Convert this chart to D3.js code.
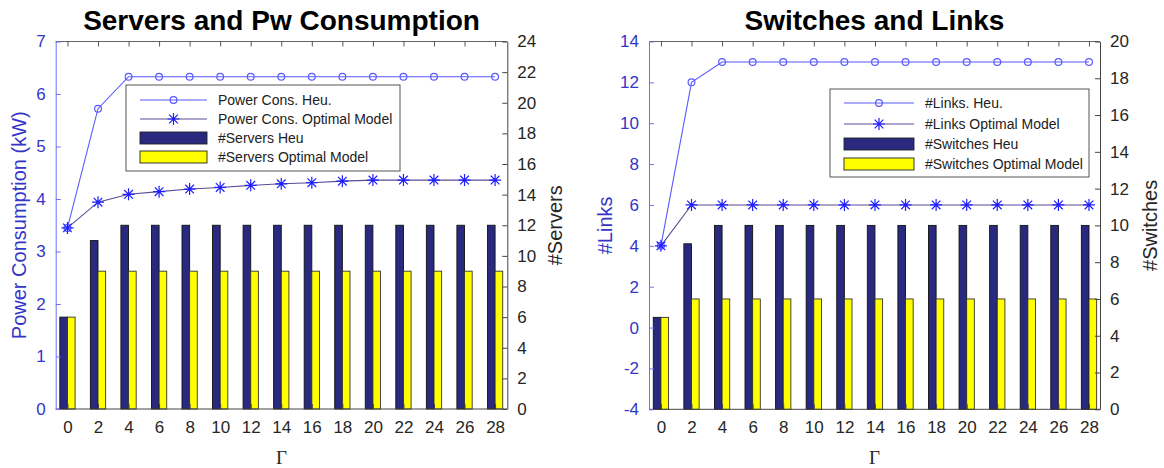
<!DOCTYPE html>
<html>
<head>
<meta charset="utf-8">
<script src="https://cdn.jsdelivr.net/npm/d3@7"></script>
<style>
  body { margin: 0; background: #fff; }
  svg { font-family: "Liberation Sans", Arial, sans-serif; }
</style>
</head>
<body>
<svg id="chart" width="1164" height="468"></svg>
<script>
// Γ values on the x axis
const gammas = [0, 2, 4, 6, 8, 10, 12, 14, 16, 18, 20, 22, 24, 26, 28]

// left panel: servers and power consumption
const powerHeu = [3.45, 5.72, 6.33, 6.33, 6.33, 6.33, 6.33, 6.33, 6.33, 6.33, 6.33, 6.33, 6.33, 6.33, 6.33]
const powerOpt = [3.45, 3.94, 4.09, 4.14, 4.19, 4.22, 4.26, 4.29, 4.31, 4.34, 4.36, 4.36, 4.36, 4.36, 4.36]
const serversHeu = [6, 11, 12, 12, 12, 12, 12, 12, 12, 12, 12, 12, 12, 12, 12]
const serversOpt = [6, 9, 9, 9, 9, 9, 9, 9, 9, 9, 9, 9, 9, 9, 9]
const powerTicks = [0, 1, 2, 3, 4, 5, 6, 7]
const serversTicks = [0, 2, 4, 6, 8, 10, 12, 14, 16, 18, 20, 22, 24]

// right panel: switches and links
const linksHeu = [4, 12, 13, 13, 13, 13, 13, 13, 13, 13, 13, 13, 13, 13, 13]
const linksOpt = [4, 6, 6, 6, 6, 6, 6, 6, 6, 6, 6, 6, 6, 6, 6]
const switchesHeu = [5, 9, 10, 10, 10, 10, 10, 10, 10, 10, 10, 10, 10, 10, 10]
const switchesOpt = [5, 6, 6, 6, 6, 6, 6, 6, 6, 6, 6, 6, 6, 6, 6]
const linksTicks = [-4, -2, 0, 2, 4, 6, 8, 10, 12, 14]
const switchesTicks = [0, 2, 4, 6, 8, 10, 12, 14, 16, 18, 20]

const BLUE_TXT = "#3535c8"
const BLUE_AX = "#7070ff"
const GRAY = "#262626"
const HEU_LINE = "#5a5aff"
const OPT_LINE = "#5a4b96"
const STAR = "#1f1fff"
const NAVY = "#29297f"
const YELLOW = "#ffff00"
const FONT = "Liberation Sans, Arial, sans-serif"

const svg = d3.select("#chart")
const plain = (d) => String(d)

// MATLAB style '*' marker
const starPath = (r) => {
  const d = r * 0.72
  return `M${-r},0L${r},0M0,${-r}L0,${r}M${-d},${-d}L${d},${d}M${-d},${d}L${d},${-d}`
}

function drawPanel(cfg) {
  const g = svg.append("g")
  const x = d3.scaleLinear().domain(cfg.xDomain).range([cfg.left, cfg.right])
  const yL = d3.scaleLinear().domain(d3.extent(cfg.leftTicks)).range([cfg.bottom, cfg.top])
  const yR = d3.scaleLinear().domain(d3.extent(cfg.rightTicks)).range([cfg.bottom, cfg.top])
  const bw = x(0.5) - x(0)

  // bars
  const bars = g.append("g")
  bars.selectAll("rect.heu").data(gammas).join("rect")
    .attr("x", (d) => x(d) - bw)
    .attr("y", (d, i) => yR(cfg.barHeu[i]))
    .attr("width", bw)
    .attr("height", (d, i) => yR(0) - yR(cfg.barHeu[i]))
    .attr("fill", NAVY).attr("stroke", "#111").attr("stroke-width", 0.9)
  bars.selectAll("rect.opt").data(gammas).join("rect")
    .attr("x", (d) => x(d))
    .attr("y", (d, i) => yR(cfg.barOpt[i]))
    .attr("width", bw)
    .attr("height", (d, i) => yR(0) - yR(cfg.barOpt[i]))
    .attr("fill", YELLOW).attr("stroke", "#333").attr("stroke-width", 0.9)

  // frame: top and bottom
  g.append("line").attr("x1", cfg.left).attr("x2", cfg.right).attr("y1", cfg.top).attr("y2", cfg.top)
    .attr("stroke", "#666")
  g.append("line").attr("x1", cfg.left).attr("x2", cfg.right).attr("y1", cfg.bottom).attr("y2", cfg.bottom)
    .attr("stroke", "#444")

  // x axis
  const xAxis = d3.axisBottom(x).tickValues(gammas).tickFormat(plain).tickSize(-5).tickPadding(12).tickSizeOuter(0)
  const gx = g.append("g").attr("transform", `translate(0,${cfg.bottom})`).call(xAxis)
  gx.select(".domain").remove()
  gx.selectAll("line").attr("stroke", "#444")
  gx.selectAll("text").attr("font-size", 17).attr("fill", GRAY).attr("font-family", FONT)
  const xTop = d3.axisTop(x).tickValues(gammas).tickSize(-5).tickFormat("")
  const gt = g.append("g").attr("transform", `translate(0,${cfg.top})`).call(xTop)
  gt.select(".domain").remove()
  gt.selectAll("line").attr("stroke", "#555")

  // left axis
  const gl = g.append("g").attr("transform", `translate(${cfg.left},0)`)
    .call(d3.axisLeft(yL).tickValues(cfg.leftTicks).tickFormat(plain).tickSize(-5).tickPadding(10).tickSizeOuter(0))
  gl.select(".domain").attr("stroke", BLUE_AX)
  gl.selectAll("line").attr("stroke", BLUE_AX)
  gl.selectAll("text").attr("font-size", 17).attr("fill", BLUE_TXT).attr("font-family", FONT)

  // right axis
  const gr = g.append("g").attr("transform", `translate(${cfg.right},0)`)
    .call(d3.axisRight(yR).tickValues(cfg.rightTicks).tickFormat(plain).tickSize(-5).tickPadding(10).tickSizeOuter(0))
  gr.select(".domain").attr("stroke", "#444")
  gr.selectAll("line").attr("stroke", "#444")
  gr.selectAll("text").attr("font-size", 17).attr("fill", GRAY).attr("font-family", FONT)

  // lines
  const line = (vals) => d3.line().x((d, i) => x(gammas[i])).y((d) => yL(d))(vals)
  g.append("path").attr("d", line(cfg.lineHeu)).attr("fill", "none").attr("stroke", HEU_LINE).attr("stroke-width", 1.1)
  g.append("path").attr("d", line(cfg.lineOpt)).attr("fill", "none").attr("stroke", OPT_LINE).attr("stroke-width", 1.1)
  g.selectAll("circle.m").data(cfg.lineHeu).join("circle")
    .attr("cx", (d, i) => x(gammas[i])).attr("cy", (d) => yL(d)).attr("r", 3.4)
    .attr("fill", "none").attr("stroke", HEU_LINE).attr("stroke-width", 1.2)
  g.selectAll("path.star").data(cfg.lineOpt).join("path")
    .attr("transform", (d, i) => `translate(${x(gammas[i])},${yL(d)})`)
    .attr("d", starPath(6)).attr("stroke", STAR).attr("stroke-width", 1.2)

  // titles and labels
  const cx = (cfg.left + cfg.right) / 2
  g.append("text").attr("x", cx).attr("y", 30).attr("text-anchor", "middle")
    .attr("font-size", 28).attr("font-weight", "bold").attr("fill", "#000").text(cfg.title)
  g.append("text").attr("x", cx).attr("y", 464).attr("text-anchor", "middle")
    .attr("font-size", 19).attr("font-family", "Liberation Serif, serif").attr("fill", GRAY).text("Γ")
  const cy = (cfg.top + cfg.bottom) / 2
  g.append("text").attr("transform", `translate(${cfg.leftLabelX},${cy}) rotate(-90)`)
    .attr("text-anchor", "middle").attr("font-size", 20).attr("fill", BLUE_TXT).text(cfg.leftLabel)
  g.append("text").attr("transform", `translate(${cfg.rightLabelX},${cy}) rotate(-90)`)
    .attr("text-anchor", "middle").attr("font-size", 20).attr("fill", GRAY).text(cfg.rightLabel)

  // legend
  const lg = g.append("g").attr("transform", `translate(${cfg.legend.x},${cfg.legend.y})`)
  lg.append("rect").attr("width", cfg.legend.w).attr("height", cfg.legend.h)
    .attr("fill", "#fff").attr("stroke", "#555").attr("stroke-width", 1)
  const rows = cfg.legend.rows
  cfg.legend.labels.forEach((lab, i) => {
    const ry = rows[i]
    const sx0 = 14, sx1 = 14 + cfg.legend.sw, mx = (sx0 + sx1) / 2
    if (i === 0) {
      lg.append("line").attr("x1", sx0).attr("x2", sx1).attr("y1", ry).attr("y2", ry).attr("stroke", HEU_LINE).attr("stroke-width", 1.1)
      lg.append("circle").attr("cx", mx).attr("cy", ry).attr("r", 3.4).attr("fill", "none").attr("stroke", HEU_LINE).attr("stroke-width", 1.2)
    } else if (i === 1) {
      lg.append("line").attr("x1", sx0).attr("x2", sx1).attr("y1", ry).attr("y2", ry).attr("stroke", OPT_LINE).attr("stroke-width", 1.1)
      lg.append("path").attr("transform", `translate(${mx},${ry})`).attr("d", starPath(6)).attr("stroke", STAR).attr("stroke-width", 1.2)
    } else {
      lg.append("rect").attr("x", sx0).attr("y", ry - 6).attr("width", cfg.legend.sw).attr("height", 12)
        .attr("fill", i === 2 ? NAVY : YELLOW).attr("stroke", "#222").attr("stroke-width", 0.9)
    }
    lg.append("text").attr("x", sx1 + 11).attr("y", ry).attr("dy", "0.35em")
      .attr("font-size", 14).attr("fill", "#222").text(lab)
  })
}

drawPanel({
  title: "Servers and Pw Consumption",
  left: 55.7, right: 507.3, top: 41.5, bottom: 409,
  xDomain: [-0.77, 28.8],
  leftTicks: powerTicks, rightTicks: serversTicks,
  barHeu: serversHeu, barOpt: serversOpt,
  lineHeu: powerHeu, lineOpt: powerOpt,
  leftLabel: "Power Consumption (kW)", leftLabelX: 26,
  rightLabel: "#Servers", rightLabelX: 562,
  legend: {
    x: 126, y: 85, w: 274, h: 86, sw: 67, rows: [15, 34, 53, 72],
    labels: ["Power Cons. Heu.", "Power Cons. Optimal Model", "#Servers Heu", "#Servers Optimal Model"]
  }
})

drawPanel({
  title: "Switches and Links",
  left: 649, right: 1100, top: 41.5, bottom: 409.3,
  xDomain: [-0.78, 28.72],
  leftTicks: linksTicks, rightTicks: switchesTicks,
  barHeu: switchesHeu, barOpt: switchesOpt,
  lineHeu: linksHeu, lineOpt: linksOpt,
  leftLabel: "#Links", leftLabelX: 612,
  rightLabel: "#Switches", rightLabelX: 1157,
  legend: {
    x: 830, y: 89, w: 259, h: 88, sw: 70, rows: [14, 35, 55, 75],
    labels: ["#Links. Heu.", "#Links Optimal Model", "#Switches Heu", "#Switches Optimal Model"]
  }
})
</script>
</body>
</html>
